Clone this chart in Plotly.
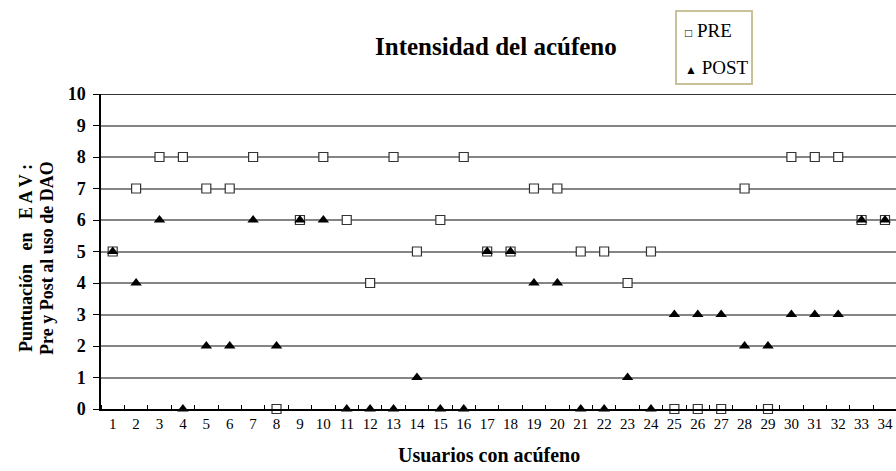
import plotly.graph_objects as go

usuarios = list(range(1, 35))
pre = [5, 7, 8, 8, 7, 7, 8, 0, 6, 8, 6, 4, 8, 5, 6, 8, 5, 5, 7, 7,
       5, 5, 4, 5, 0, 0, 0, 7, 0, 8, 8, 8, 6, 6]
post = [5, 4, 6, 0, 2, 2, 6, 2, 6, 6, 0, 0, 0, 1, 0, 0, 5, 5, 4, 4,
        0, 0, 1, 0, 3, 3, 3, 2, 2, 3, 3, 3, 6, 6]
y_ticks = list(range(0, 11))

SERIF = "Liberation Serif"

fig = go.Figure()
fig.add_trace(go.Scatter(
    x=usuarios, y=pre, mode="markers", name="PRE",
    marker=dict(symbol="square", size=9, color="white",
                line=dict(color="#333333", width=1.2)),
    cliponaxis=False,
))
fig.add_trace(go.Scatter(
    x=usuarios, y=post, mode="markers", name="POST",
    marker=dict(symbol="triangle-up", size=10, color="black",
                line=dict(width=0)),
    cliponaxis=False,
))

L, R, T, B = 101, 0, 94, 62
W, H = 896, 471
pw = W - L - R
ph = H - T - B


def px(x):
    return (x - L) / pw


def py(y):
    return (H - B - y) / ph


fig.update_layout(
    width=W, height=H,
    margin=dict(l=L, r=R, t=T, b=B),
    paper_bgcolor="white", plot_bgcolor="white",
    font=dict(family=SERIF, color="black"),
    showlegend=False,
    xaxis=dict(
        range=[0.5, 34.47],
        tickmode="array", tickvals=usuarios, ticktext=[str(u) for u in usuarios],
        ticks="", showgrid=False, zeroline=False,
        showline=True, linecolor="black", linewidth=1.5,
        tickfont=dict(family=SERIF, size=15, color="black"),
        minor=dict(tick0=0.5, dtick=1, ticks="inside", ticklen=4,
                   tickcolor="black", tickwidth=1, showgrid=False),
    ),
    yaxis=dict(
        range=[0, 10],
        tickmode="array", tickvals=y_ticks, ticktext=[str(v) for v in y_ticks],
        ticks="outside", ticklen=6, tickcolor="black", tickwidth=1,
        showgrid=True, gridcolor="#858585", gridwidth=1.6,
        zeroline=False,
        showline=True, linecolor="black", linewidth=1.5,
        tickfont=dict(family=SERIF, size=18, color="black", weight="bold"),
        ticklabelstandoff=4,
    ),
    shapes=[
        dict(type="line", xref="paper", yref="y", x0=0, x1=1, y0=10, y1=10,
             line=dict(color="#333333", width=2)),
        dict(type="rect", xref="paper", yref="paper",
             x0=px(676), x1=px(752), y0=py(84), y1=py(11),
             line=dict(color="#c9c19a", width=2), fillcolor="white"),
    ],
    annotations=[
        dict(text="Intensidad del acúfeno", xref="paper", yref="paper",
             x=px(496), y=py(46), xanchor="center", yanchor="middle",
             showarrow=False, font=dict(family=SERIF, size=25, color="black", weight="bold")),
        dict(text="Usuarios con acúfeno", xref="paper", yref="paper",
             x=px(489), y=py(455), xanchor="center", yanchor="middle",
             showarrow=False, font=dict(family=SERIF, size=20, color="black", weight="bold")),
        dict(text="Puntuación&nbsp;&nbsp; en&nbsp;&nbsp; E A V :", xref="paper", yref="paper",
             x=px(26), y=py(258), xanchor="center", yanchor="middle",
             textangle=-90, showarrow=False,
             font=dict(family=SERIF, size=18, color="black", weight="bold")),
        dict(text="Pre y Post al uso de DAO", xref="paper", yref="paper",
             x=px(47), y=py(258), xanchor="center", yanchor="middle",
             textangle=-90, showarrow=False,
             font=dict(family=SERIF, size=18, color="black", weight="bold")),
        dict(text="<span style='font-size:12px'>□</span> PRE", xref="paper", yref="paper",
             x=px(683), y=py(30), xanchor="left", yanchor="middle",
             showarrow=False, font=dict(family=SERIF, size=19, color="black")),
        dict(text="<span style='font-size:12px'>▲</span> POST", xref="paper", yref="paper",
             x=px(683), y=py(67), xanchor="left", yanchor="middle",
             showarrow=False, font=dict(family=SERIF, size=19, color="black")),
    ],
)

fig.write_html("out.html", config={"displayModeBar": False},
               post_script="document.body.style.margin='0';")
